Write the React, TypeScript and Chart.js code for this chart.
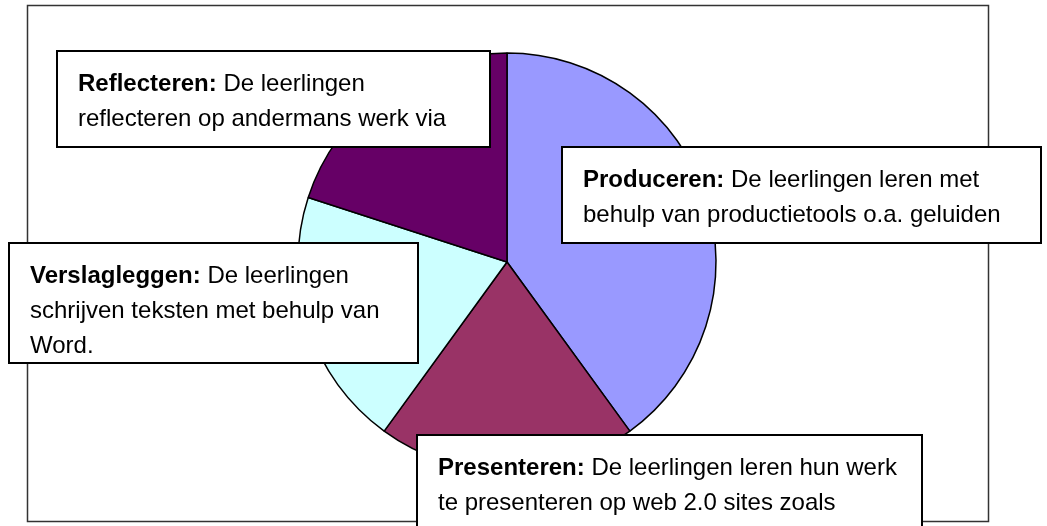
import React, { useEffect, useRef } from "react";
import { Chart, registerables } from "chart.js";

Chart.register(...registerables);

// ---- data ----
const categories = ["Produceren", "Presenteren", "Verslagleggen", "Reflecteren"];
const shares = [40, 20, 20, 20];
const sliceColors = ["#9999FF", "#993366", "#CCFFFF", "#660066"];
const labelTitles = ["Produceren:", "Presenteren:", "Verslagleggen:", "Reflecteren:"];
const labelLines = [
  [" De leerlingen leren met", "behulp van productietools o.a. geluiden"],
  [" De leerlingen leren hun werk", "te presenteren op web 2.0 sites zoals"],
  [" De leerlingen", "schrijven teksten met behulp van", "Word."],
  [" De leerlingen", "reflecteren op andermans werk via"],
];

// ---- layout (pixel placement of the callout boxes and frame) ----
const W = 1047;
const H = 526;
const frameBox = { x: 27, y: 5, w: 961, h: 516 };
const labelBoxes = [
  { x: 562, y: 147, w: 479, h: 96 },
  { x: 417, y: 435, w: 505, h: 120 },
  { x: 9, y: 243, w: 409, h: 120 },
  { x: 57, y: 51, w: 433, h: 96 },
];
const FONT_FAMILY = '"Liberation Sans", Arial, Helvetica, sans-serif';
const FONT_SIZE = 24;

const overlayPlugin = {
  id: "overlay",
  beforeDraw(chart: any) {
    const ctx = chart.ctx;
    ctx.save();
    ctx.fillStyle = "#ffffff";
    ctx.fillRect(0, 0, chart.width, chart.height);
    ctx.strokeStyle = "#333333";
    ctx.lineWidth = 1.5;
    ctx.strokeRect(frameBox.x + 0.5, frameBox.y + 0.5, frameBox.w, frameBox.h);
    ctx.restore();
  },
  afterDraw(chart: any) {
    const ctx = chart.ctx;
    ctx.save();
    labelBoxes.forEach((b, i) => {
      ctx.fillStyle = "#ffffff";
      ctx.fillRect(b.x, b.y, b.w, b.h);
      ctx.strokeStyle = "#000000";
      ctx.lineWidth = 2;
      ctx.strokeRect(b.x, b.y, b.w, b.h);
      const tx = b.x + 21;
      let ty = b.y + 40;
      ctx.fillStyle = "#000000";
      ctx.textBaseline = "alphabetic";
      ctx.textAlign = "left";
      labelLines[i].forEach((line, j) => {
        let x = tx;
        if (j === 0) {
          ctx.font = `bold ${FONT_SIZE}px ${FONT_FAMILY}`;
          ctx.fillText(labelTitles[i], x, ty);
          x += ctx.measureText(labelTitles[i]).width;
        }
        ctx.font = `${FONT_SIZE}px ${FONT_FAMILY}`;
        ctx.fillText(line, x, ty);
        ty += 35;
      });
    });
    ctx.restore();
  },
};

export default function App() {
  const canvasRef = useRef<HTMLCanvasElement | null>(null);

  useEffect(() => {
    if (!canvasRef.current) return;
    const chart = new Chart(canvasRef.current, {
      type: "pie",
      data: {
        labels: categories,
        datasets: [
          {
            data: shares,
            backgroundColor: sliceColors,
            borderColor: "#000000",
            borderWidth: 1.5,
          },
        ],
      },
      options: {
        responsive: false,
        animation: false,
        events: [],
        radius: 209,
        layout: { padding: { left: 0, right: 33, top: 0, bottom: 2 } },
        plugins: {
          legend: { display: false },
          tooltip: { enabled: false },
          title: { display: false },
        },
      } as any,
      plugins: [overlayPlugin],
    });
    return () => chart.destroy();
  }, []);

  return (
    <div style={{ position: "absolute", left: 0, top: 0, width: W, height: H, overflow: "hidden" }}>
      <canvas ref={canvasRef} width={W} height={H} style={{ display: "block", width: W, height: H }} />
    </div>
  );
}
